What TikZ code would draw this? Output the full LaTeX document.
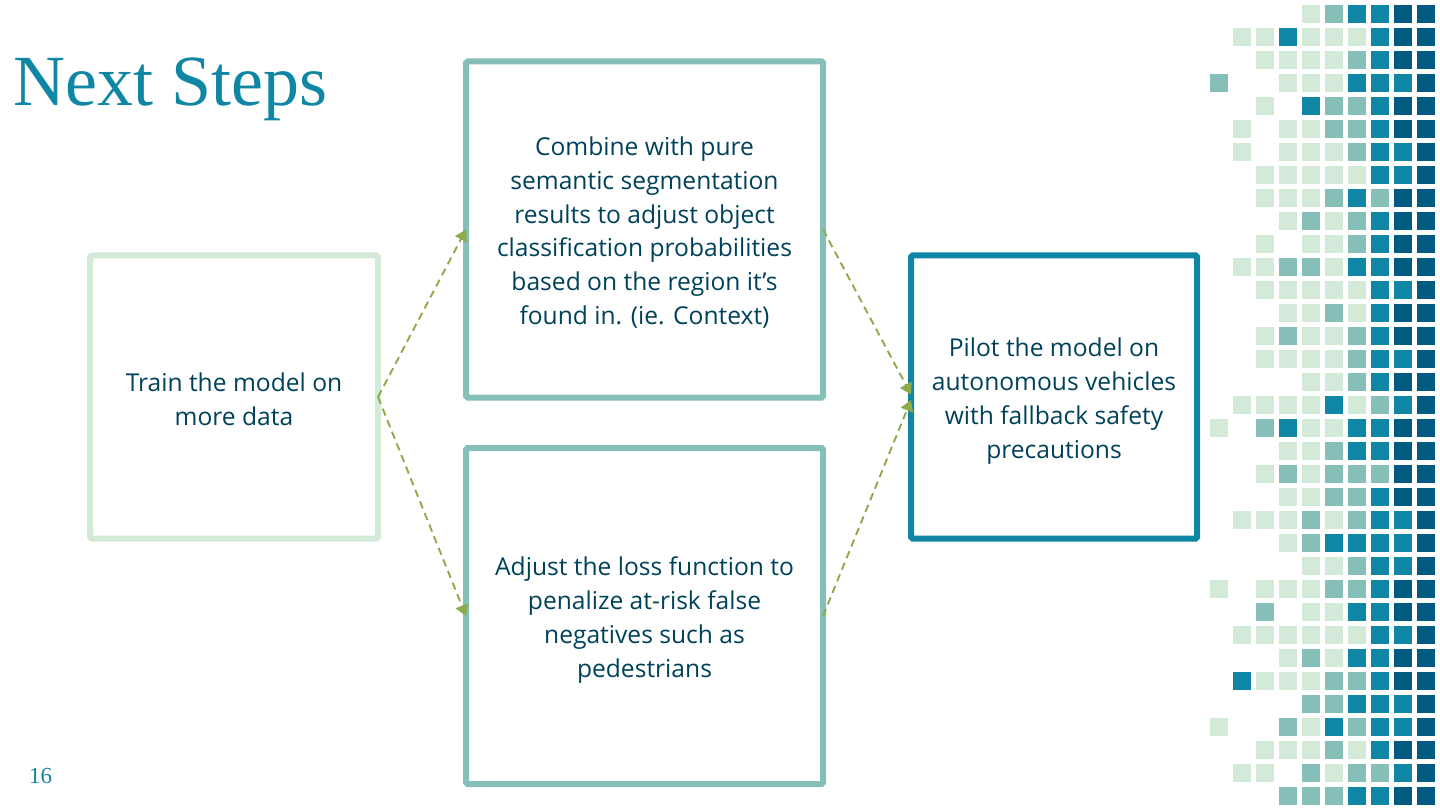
\documentclass[tikz,border=0pt]{standalone}
\usepackage{fontspec}
\setmainfont{Liberation Serif}
\newfontfamily\bodyfont{Open Sans}
\usetikzlibrary{arrows.meta,calc}
\definecolor{cellA}{HTML}{D4EAD9}
\definecolor{cellB}{HTML}{85BFB8}
\definecolor{cellC}{HTML}{0F86A3}
\definecolor{cellD}{HTML}{015A80}
\definecolor{inktext}{HTML}{00415A}
\definecolor{linkgreen}{HTML}{8CAB4A}
\newcommand{\panelrows}[2]{\raisebox{#1}[0pt][0pt]{\begin{tabular}{@{}c@{}}#2\end{tabular}}}
\tikzset{
  panel/.style={draw=#1,line width=6pt,rounded corners=1.5pt,outer sep=0pt,inner sep=0pt,text=inktext,font=\bodyfont\fontsize{24.6}{33.7}\selectfont},
  link/.style={draw=linkgreen,line width=1.9pt,dash pattern=on 7.5pt off 5pt,-{Triangle[length=11pt,width=13pt]}},
}
\begin{document}
\begin{tikzpicture}[x=1pt,y=-1pt]
\useasboundingbox (0,0) rectangle (1440,810);
\node[anchor=base west,text=cellC,font=\fontsize{72}{72}\selectfont,inner sep=0pt] (title) at (13,106) {Next Steps};
\node[anchor=base west,text=cellC,font=\fontsize{23}{23}\selectfont,inner sep=0pt] (pagenum) at (29,783) {16};
\node[panel=cellA,minimum width=288pt,minimum height=283pt] (train) at (234,397) {\panelrows{-11pt}{Train the model on\\more data}};
\node[panel=cellB,minimum width=357pt,minimum height=336pt] (combine) at (644.5,229.5) {\panelrows{-10pt}{Combine with pure\\semantic segmentation\\results to adjust object\\classification probabilities\\based on the region it’s\\found in. (ie. Context)}};
\node[panel=cellB,minimum width=357pt,minimum height=336pt] (adjust) at (644.5,616) {\panelrows{-10pt}{Adjust the loss function to\\penalize at-risk false\\negatives such as\\pedestrians}};
\node[panel=cellC,minimum width=286pt,minimum height=283pt] (pilot) at (1054,397) {\panelrows{-10pt}{Pilot the model on\\autonomous vehicles\\with fallback safety\\precautions}};
\coordinate (pilotup) at ($(pilot.west)+(0,-2.5)$);
\coordinate (pilotdown) at ($(pilot.west)+(0,3)$);
\draw[link] (train.east) -- (combine.west);
\draw[link] (train.east) -- (adjust.west);
\draw[link] (combine.east) -- (pilotup);
\draw[link] (adjust.east) -- (pilotdown);
\foreach \cells [count=\j from 0] in {
{0,0,0,0,1,2,3,3,4,4},
{0,1,1,3,1,1,1,3,4,4},
{0,0,1,1,1,1,2,3,4,4},
{2,0,0,1,1,1,3,3,3,4},
{0,0,1,0,3,2,2,3,4,4},
{0,1,0,1,1,2,2,3,4,4},
{0,1,0,1,1,1,2,3,3,4},
{0,0,1,1,1,1,1,3,3,4},
{0,0,1,1,1,2,3,2,4,4},
{0,0,0,1,2,1,2,3,4,4},
{0,0,1,0,1,1,2,3,4,4},
{0,1,1,2,2,1,3,3,4,4},
{0,0,1,1,1,1,1,3,3,4},
{0,0,0,1,1,2,1,3,4,4},
{0,0,1,2,1,1,2,3,4,4},
{0,0,1,1,1,1,2,3,3,4},
{0,0,0,0,1,1,2,3,4,4},
{0,1,1,1,1,3,1,2,3,4},
{1,0,2,3,1,1,3,3,4,4},
{0,0,0,1,1,2,3,3,4,4},
{0,0,1,2,1,2,2,2,4,4},
{0,0,0,1,1,2,2,3,4,4},
{0,1,1,1,2,1,2,3,3,4},
{0,0,0,1,2,3,3,3,3,4},
{0,0,0,0,1,1,2,3,3,4},
{1,0,1,1,1,2,2,3,4,4},
{0,0,2,0,1,1,3,3,4,4},
{0,1,1,1,1,1,1,3,3,4},
{0,0,0,1,2,1,3,3,4,4},
{0,3,1,1,1,2,2,3,4,4},
{0,0,0,0,2,2,3,3,3,4},
{1,0,0,2,1,3,2,3,3,4},
{0,0,1,1,1,2,1,3,4,4},
{0,1,1,0,2,1,2,2,3,4},
{0,0,0,2,2,2,3,3,4,4}}{
  \foreach \v [count=\i from 0] in \cells {
    \ifnum\v>0
      \ifcase\v\or\def\shade{cellA}\or\def\shade{cellB}\or\def\shade{cellC}\or\def\shade{cellD}\fi
      \fill[\shade] ({1210+23*\i},{5+23*\j}) rectangle ++(18,18);
    \fi
  }
}
\end{tikzpicture}
\end{document}
